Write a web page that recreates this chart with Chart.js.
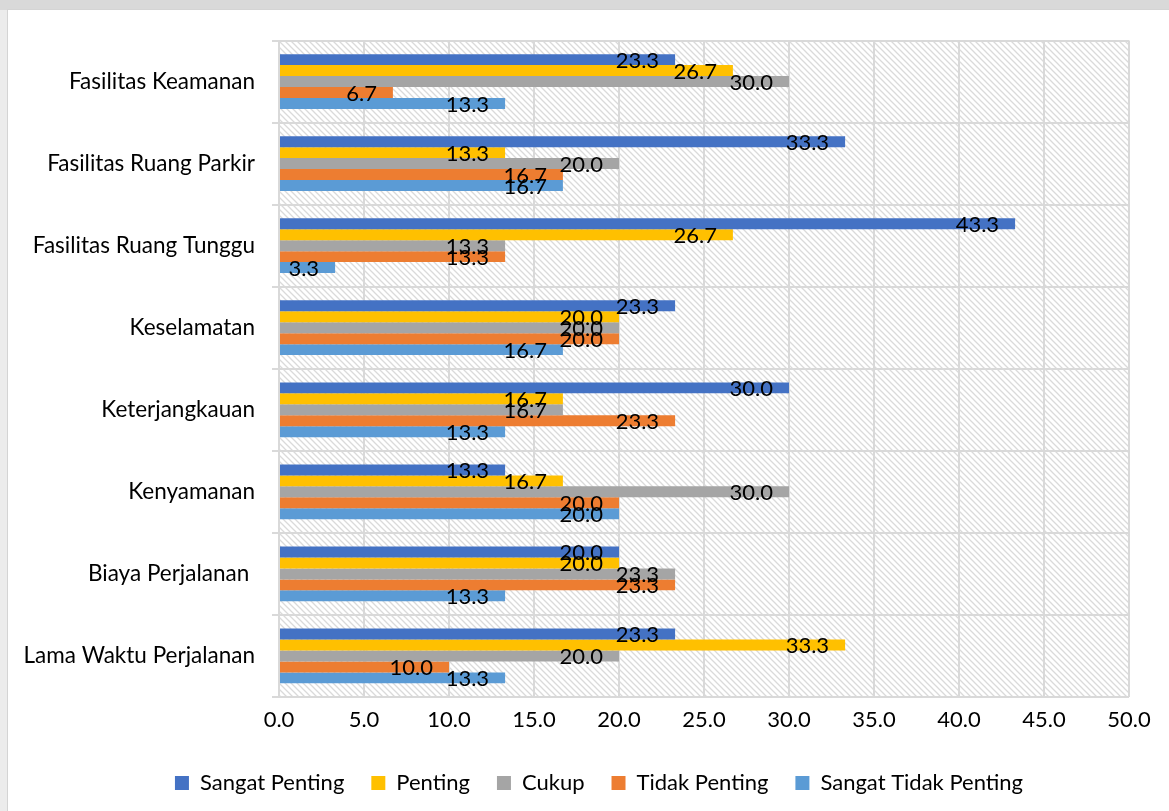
<!DOCTYPE html>
<html>
<head>
<meta charset="utf-8">
<script src="https://cdn.jsdelivr.net/npm/chart.js@4.4.1/dist/chart.umd.min.js"></script>
<style>
  html, body { margin: 0; padding: 0; width: 1169px; height: 811px; overflow: hidden; background: #ececec; }
  #strip { position: absolute; left: 0; top: 0; width: 1169px; height: 10px; background: #d9d9d9; }
  #frame { position: absolute; left: 7px; top: 9px; width: 1182px; height: 802px; background: #fff; border-left: 1px solid #d4d4d4; border-top: 1px solid #d4d4d4; }
  canvas { display: block; }
</style>
</head>
<body>
<div id="strip"></div>
<div id="frame"><canvas id="c" width="1182" height="802"></canvas></div>
<script>
// Aspects of travel, percentage of respondents per rating
const categories = [
  'Fasilitas Keamanan',
  'Fasilitas Ruang Parkir',
  'Fasilitas Ruang Tunggu',
  'Keselamatan',
  'Keterjangkauan',
  'Kenyamanan',
  'Biaya Perjalanan ',
  'Lama Waktu Perjalanan'
];
const sangatPenting      = [23.3, 33.3, 43.3, 23.3, 30.0, 13.3, 20.0, 23.3];
const penting            = [26.7, 13.3, 26.7, 20.0, 16.7, 16.7, 20.0, 33.3];
const cukup              = [30.0, 20.0, 13.3, 20.0, 16.7, 30.0, 23.3, 20.0];
const tidakPenting       = [ 6.7, 16.7, 13.3, 20.0, 23.3, 20.0, 23.3, 10.0];
const sangatTidakPenting = [13.3, 16.7,  3.3, 16.7, 13.3, 20.0, 13.3, 13.3];
const seriesNames = ['Sangat Penting', 'Penting', 'Cukup', 'Tidak Penting', 'Sangat Tidak Penting'];
const seriesColors = ['#4472C4', '#FFC000', '#A5A5A5', '#ED7D31', '#5B9BD5'];
const tickLabels = ['0.0', '5.0', '10.0', '15.0', '20.0', '25.0', '30.0', '35.0', '40.0', '45.0', '50.0'];

const FONT = 'Lato';
Chart.defaults.font.family = FONT;
Chart.defaults.color = '#000';

// Diagonal hatch used behind the bars
function makeHatch() {
  const s = 6;
  const t = document.createElement('canvas');
  t.width = s; t.height = s;
  const g = t.getContext('2d');
  g.fillStyle = '#fff';
  g.fillRect(0, 0, s, s);
  g.strokeStyle = '#dadada';
  g.lineWidth = 1.3;
  g.beginPath();
  g.moveTo(-1, -1); g.lineTo(s + 1, s + 1);
  g.moveTo(-1, s - 1); g.lineTo(1, s + 1);
  g.moveTo(s - 1, -1); g.lineTo(s + 1, 1);
  g.stroke();
  return t;
}

const hatchBackground = {
  id: 'hatchBackground',
  beforeDraw(chart) {
    const { ctx, chartArea: a } = chart;
    ctx.save();
    ctx.fillStyle = ctx.createPattern(makeHatch(), 'repeat');
    ctx.fillRect(a.left, a.top, a.right - a.left, a.bottom - a.top);
    ctx.restore();
  }
};

// Center the legend across the full canvas width rather than the padded area
const legendFullWidth = {
  id: 'legendFullWidth',
  afterLayout(chart) {
    const lg = chart.legend;
    if (!lg) return;
    lg.left = 0;
    lg.right = chart.width;
    lg.width = chart.width;
  }
};

const valueLabels = {
  id: 'valueLabels',
  afterDatasetsDraw(chart) {
    const ctx = chart.ctx;
    ctx.save();
    ctx.font = '22px ' + FONT;
    ctx.fillStyle = '#000';
    ctx.textAlign = 'right';
    ctx.textBaseline = 'middle';
    chart.data.datasets.forEach((ds, i) => {
      const meta = chart.getDatasetMeta(i);
      meta.data.forEach((bar, j) => {
        ctx.fillText(ds.data[j].toFixed(1), bar.x - 16, bar.y + 1);
      });
    });
    ctx.restore();
  }
};

const seriesData = [sangatPenting, penting, cukup, tidakPenting, sangatTidakPenting];

new Chart(document.getElementById('c'), {
  type: 'bar',
  data: {
    labels: categories,
    datasets: seriesNames.map((name, i) => ({
      label: name,
      data: seriesData[i],
      backgroundColor: seriesColors[i],
      borderWidth: 0,
      barPercentage: 1.0,
      categoryPercentage: 0.667
    }))
  },
  options: {
    indexAxis: 'y',
    responsive: false,
    animation: false,
    layout: { padding: { left: 0, top: 26, right: 61, bottom: 8 } },
    scales: {
      x: {
        min: 0,
        max: 50,
        ticks: {
          stepSize: 5,
          padding: 10,
          font: { size: 22 },
          color: '#000',
          callback: (v, i) => tickLabels[i]
        },
        grid: { color: '#d9d9d9', lineWidth: 2, drawTicks: false },
        border: { display: false },
        afterFit(scale) { scale.height = 48; }
      },
      y: {
        ticks: { padding: 17, font: { size: 22.5 }, color: '#000' },
        grid: { color: '#d9d9d9', lineWidth: 2, offset: true, tickLength: 7 },
        border: { color: '#d9d9d9', width: 2 },
        afterFit(scale) { scale.width = 271; }
      }
    },
    plugins: {
      legend: {
        position: 'bottom',
        labels: {
          boxWidth: 14,
          boxHeight: 14,
          padding: 27,
          font: { size: 22 },
          color: '#000'
        }
      },
      tooltip: { enabled: false }
    }
  },
  plugins: [hatchBackground, legendFullWidth, valueLabels]
});
</script>
</body>
</html>
